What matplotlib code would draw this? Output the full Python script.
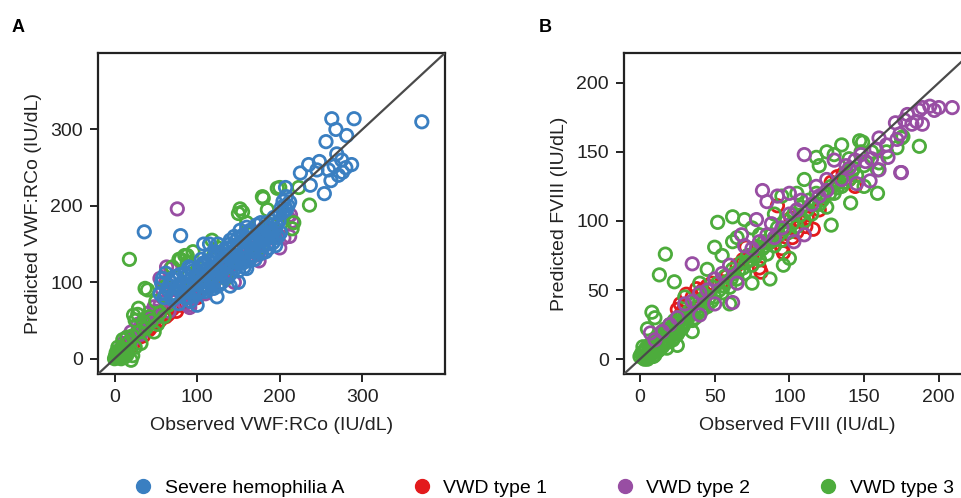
import numpy as np
import matplotlib
matplotlib.use("Agg")
import matplotlib.pyplot as plt
from matplotlib.lines import Line2D

plt.rcParams['font.family'] = ['Liberation Sans', 'DejaVu Sans']

# colours of the four groups
c_blue = '#3a7fc1'
c_red = '#e31a1c'
c_purple = '#984ea3'
c_green = '#4dac3c'

group_names = ['Severe hemophilia A', 'VWD type 1', 'VWD type 2', 'VWD type 3']

# ---- panel A : VWF:RCo, observed vs predicted ----
a_blue_x = [372, 263, 290, 268, 281, 256, 269, 287, 225, 235, 248, 275, 262, 254, 276, 259, 207, 204,
            208, 237, 271, 245, 280, 266, 36, 80, 124, 212, 210,
            60, 65, 68, 70, 72, 75, 75, 78, 80, 82, 85, 85, 88, 90, 92, 95, 95, 98, 100, 100, 103, 105,
            108, 110, 110, 112, 115, 115, 118, 120, 120, 122, 125, 125, 128, 130, 130, 132, 135, 135,
            138, 140, 140, 142, 145, 145, 148, 150, 150, 152, 155, 155, 158, 160, 160, 162, 165, 165,
            168, 170, 172, 175, 175, 178, 180, 182, 185, 188, 190, 192, 195, 198, 200, 202, 140, 150,
            115, 125, 108, 90, 105, 170, 180, 195, 160, 100, 57, 58, 62, 55,
            62, 66, 70, 73, 77, 79, 83, 84, 87, 89, 91, 93, 96, 97, 99, 102, 104, 106, 107, 109, 111,
            113, 114, 116, 117, 119, 121, 123, 124, 126, 127, 129, 131, 133, 134, 136, 137, 139, 141,
            143, 144, 146, 147, 149, 151, 153, 154, 156, 157, 159, 161, 163, 164, 166, 167, 169, 171,
            173, 174, 176, 177, 179, 181, 183, 184, 186, 187, 189, 191, 193, 194, 196, 199, 201, 204,
            206, 208]
a_blue_y = [310, 314, 314, 300, 292, 284, 268, 254, 243, 254, 258, 260, 233, 216, 244, 247, 224, 206,
            212, 227, 240, 247, 250, 252, 166, 161, 81, 205, 200,
            80, 90, 100, 78, 85, 95, 108, 72, 88, 100, 80, 112, 92, 102, 75, 88, 115, 98, 108, 85, 120, 95,
            110, 88, 125, 100, 115, 135, 105, 92, 125, 140, 112, 150, 128, 100, 138, 118, 145, 125,
            108, 132, 155, 120, 140, 160, 128, 150, 115, 168, 138, 125, 158, 145, 172, 132, 150, 165,
            140, 158, 175, 148, 165, 138, 160, 172, 150, 165, 180, 152, 170, 160, 190, 198, 95, 100,
            150, 95, 150, 120, 130, 130, 155, 148, 118, 70, 99, 105, 112, 85,
            85, 95, 105, 80, 92, 110, 86, 98, 108, 80, 95, 118, 82, 105, 92, 113, 88, 102, 125, 96, 117,
            92, 128, 108, 97, 120, 132, 104, 118, 138, 98, 112, 128, 142, 110, 120, 135, 150, 112,
            128, 148, 118, 135, 158, 125, 145, 132, 162, 120, 140, 155, 128, 168, 142, 158, 135, 150,
            165, 140, 158, 178, 148, 165, 140, 178, 158, 145, 170, 162, 185, 158, 175, 180, 165, 192,
            200, 195]

a_red_x = [10, 12, 15, 14, 18, 20, 25, 28, 32, 35, 40, 45, 50, 55, 60, 65, 70, 75, 80, 85, 90, 48, 38,
           100, 110, 130, 16, 22, 30, 42, 52, 62, 72]
a_red_y = [8, 12, 10, 18, 15, 22, 28, 35, 38, 30, 45, 42, 55, 50, 60, 58, 65, 62, 70, 72, 75, 48, 40,
           80, 95, 120, 14, 18, 28, 38, 48, 55, 68]

a_purple_x = [76, 10, 15, 20, 25, 28, 30, 35, 38, 42, 45, 48, 50, 55, 58, 60, 62, 68, 70, 80, 90, 95,
              100, 110, 115, 120, 130, 138, 145, 150, 160, 170, 175, 185, 190, 200, 205, 210, 215, 212,
              180, 165, 55, 40, 65, 125, 63, 205, 213, 174, 91,
              22, 32, 44, 52, 66, 85, 105, 118, 135, 155, 165, 195]
a_purple_y = [196, 20, 28, 35, 30, 45, 40, 50, 42, 60, 55, 68, 62, 70, 90, 80, 100, 118, 75, 92, 70, 78,
              95, 85, 100, 98, 110, 120, 100, 135, 138, 130, 128, 150, 158, 145, 175, 185, 180, 160,
              170, 145, 105, 50, 88, 108, 120, 158, 188, 136, 67,
              25, 32, 48, 55, 62, 72, 90, 108, 115, 130, 135, 165]

a_green_x = [18, 0, 2, 3, 5, 6, 8, 10, 4, 7, 12, 15, 20, 22, 25, 10, 15, 18, 22, 25, 28, 30, 35, 38,
             40, 42, 45, 50, 52, 55, 60, 62, 65, 72, 80, 85, 88, 90, 95, 100, 105, 112, 120, 125, 130,
             135, 140, 150, 155, 160, 162, 170, 175, 180, 185, 190, 200, 205, 215, 223, 236, 217, 118,
             70, 95, 48, 32, 60, 110, 179, 197, 152, 37, 78, 88, 29, 23,
             1, 3, 5, 7, 9, 11, 13, 16, 4, 2]
a_green_y = [130, 0, 5, 2, 8, 3, 0, 5, 10, 12, 2, 5, -2, 4, 15, 25, 28, 22, 30, 50, 58, 35, 48, 40,
             90, 55, 50, 75, 45, 60, 80, 95, 70, 85, 130, 135, 125, 110, 100, 110, 118, 95, 135, 145, 120,
             105, 130, 190, 192, 178, 165, 155, 145, 210, 195, 175, 224, 188, 170, 224, 201, 178, 155,
             120, 140, 35, 20, 55, 105, 212, 223, 196, 92, 130, 135, 66, 57,
             3, 6, 1, 4, 7, 3, 8, 12, 15, 8]

# ---- panel B : FVIII, observed vs predicted ----
b_green_x = [0, 2, 3, 4, 5, 6, 7, 8, 9, 10, 11, 12, 13, 14, 15, 16, 17, 18, 19, 20, 22, 23, 24, 25, 26,
             28, 30, 31, 33, 35, 36, 38, 40, 42, 44, 45, 47, 50, 52, 55, 57, 60, 62, 65, 68, 70, 72, 75,
             78, 80, 83, 85, 88, 90, 92, 95, 98, 100, 103, 105, 108, 110, 113, 115, 118, 120, 123, 125,
             128, 130, 133, 135, 138, 140, 143, 145, 148, 150,
             17, 13, 8, 23, 52, 62, 70, 50, 62, 118, 187, 159, 141, 135, 149, 87, 100, 128, 5, 10, 30,
             40, 45, 55, 65, 75, 80, 90, 95, 105, 110, 120, 125, 130, 140, 155, 160, 165, 175, 150, 96,
             60, 75, 35, 25, 147, 159, 172, 176, 3, 6, 9, 12, 15, 18, 21, 2, 5, 8,
             1, 2, 3, 4, 5, 6, 7, 8, 9, 10, 11, 12, 13, 14, 15, 16, 17, 18, 19, 20, 21, 22, 23, 24, 25,
             26, 27, 28, 29, 30, 32, 34, 36, 37, 39, 41, 43, 46, 48, 49, 53, 56, 58, 61, 63, 66, 69, 71,
             74, 77, 79, 82, 84, 86, 89, 93, 97, 102, 107, 112, 117, 122, 127, 132, 137, 142]
b_green_y = [2, 5, 0, 8, 3, 10, 5, 12, 2, 8, 15, 6, 18, 10, 20, 13, 22, 8, 17, 25, 14, 28, 20, 18, 30,
             22, 32, 27, 35, 28, 40, 33, 42, 36, 46, 38, 50, 45, 55, 48, 60, 52, 65, 58, 70, 62, 75, 68,
             80, 72, 85, 76, 90, 82, 95, 86, 100, 92, 105, 96, 110, 100, 115, 105, 120, 112, 118, 110,
             125, 120, 128, 125, 135, 130, 138, 133, 150, 140,
             76, 61, 34, 56, 99, 103, 101, 81, 85, 146, 154, 120, 113, 155, 157, 58, 73, 97, 22, 30, 45,
             55, 65, 75, 88, 95, 90, 105, 118, 120, 130, 140, 150, 148, 145, 150, 142, 150, 160, 125, 68,
             40, 55, 20, 10, 158, 137, 153, 161, 6, 4, 11, 9, 14, 12, 19, 9, 1, 4,
             4, 1, 6, 3, 0, 6, 9, 4, 11, 3, 10, 13, 7, 16, 9, 18, 12, 20, 13, 18, 22, 19, 16, 26, 23,
             20, 28, 26, 24, 29, 30, 32, 35, 30, 38, 35, 41, 44, 42, 52, 50, 53, 56, 58, 62, 64, 66, 70,
             72, 74, 77, 80, 82, 84, 86, 90, 94, 98, 104, 108, 112, 115, 120, 124, 128, 136]

b_red_x = [27, 28, 31, 38, 45, 69, 71, 80, 81, 96, 102, 98, 107, 111, 101, 116, 92, 132, 136, 144, 58,
           55, 25, 30, 35, 42, 48, 65, 75, 88, 105, 112, 120, 128, 140, 95]
b_red_y = [40, 34, 47, 51, 53, 72, 81, 66, 63, 77, 88, 91, 100, 96, 102, 94, 111, 132, 134, 125, 60,
           56, 36, 38, 45, 50, 55, 68, 75, 85, 92, 102, 108, 128, 130, 80]

b_purple_x = [209, 194, 189, 197, 187, 189, 179, 171, 182, 177, 174, 172, 166, 174.5, 158, 160, 154,
              144, 151, 130, 145, 35, 110, 82, 85, 78, 62, 7, 175, 200, 185, 165, 155, 140, 135, 125,
              120, 115, 105, 100, 95, 90, 88, 85, 80, 75, 70, 68, 60, 55, 50, 45, 40, 35, 30, 25, 20,
              15, 10, 92, 100, 108, 118, 125, 138, 148, 160, 103, 110, 65, 50, 40]
b_purple_y = [182, 183, 182, 180, 180, 170, 177, 171, 170, 173, 163, 159, 146, 135, 152, 137, 129,
              144, 143, 144, 127, 69, 148, 122, 114, 101, 41, 19, 135, 182, 172, 155, 145, 138, 130, 122,
              118, 112, 108, 105, 95, 88, 98, 90, 85, 80, 82, 90, 68, 62, 58, 50, 48, 42, 40, 30, 25,
              20, 14, 118, 120, 115, 125, 130, 140, 148, 160, 85, 90, 55, 40, 32]

fig = plt.figure(figsize=(9.61, 4.98), dpi=100)
ax_a = fig.add_axes([0.102, 0.249, 0.361, 0.6446])
ax_b = fig.add_axes([0.6493, 0.249, 0.361, 0.6446])

marker_kw = dict(marker='o', facecolors='none', s=80, linewidths=2.0)


def style_axes(ax, lim, ticks, xlabel, ylabel):
    ax.set_xlim(lim)
    ax.set_ylim(lim)
    ax.set_xticks(ticks)
    ax.set_yticks(ticks)
    ax.axline((0, 0), slope=1, color='#4a4a4a', lw=1.6, zorder=5)
    for sp in ax.spines.values():
        sp.set_linewidth(1.6)
        sp.set_color('#222222')
    ax.tick_params(direction='out', length=6, width=1.4, labelsize=14, pad=5, colors='#222222')
    ax.set_xlabel(xlabel, fontsize=14, labelpad=8, color='#222222')
    ax.set_ylabel(ylabel, fontsize=14, labelpad=6, color='#222222')


ax_a.scatter(a_red_x, a_red_y, edgecolors=c_red, **marker_kw)
ax_a.scatter(a_purple_x, a_purple_y, edgecolors=c_purple, **marker_kw)
ax_a.scatter(a_green_x, a_green_y, edgecolors=c_green, **marker_kw)
ax_a.scatter(a_blue_x, a_blue_y, edgecolors=c_blue, **marker_kw)
style_axes(ax_a, (-20, 400), [0, 100, 200, 300],
           'Observed VWF:RCo (IU/dL)', 'Predicted VWF:RCo (IU/dL)')

ax_b.scatter(b_red_x, b_red_y, edgecolors=c_red, **marker_kw)
ax_b.scatter(b_green_x, b_green_y, edgecolors=c_green, **marker_kw)
ax_b.scatter(b_purple_x, b_purple_y, edgecolors=c_purple, **marker_kw)
style_axes(ax_b, (-10.7, 221.5), [0, 50, 100, 150, 200],
           'Observed FVIII (IU/dL)', 'Predicted FVIII (IU/dL)')

fig.text(0.012, 0.945, 'A', fontsize=13, fontweight='bold', va='center')
fig.text(0.561, 0.945, 'B', fontsize=13, fontweight='bold', va='center')

handles = [Line2D([], [], marker='o', linestyle='none', markersize=10, color=c)
           for c in [c_blue, c_red, c_purple, c_green]]
fig.legend(handles, group_names, loc='center left', bbox_to_anchor=(0.131, 0.02), ncol=4,
           frameon=False, fontsize=14, handlelength=1.0, handletextpad=0.6,
           columnspacing=3.5, borderaxespad=0)

fig.savefig('out.png', dpi=100)
